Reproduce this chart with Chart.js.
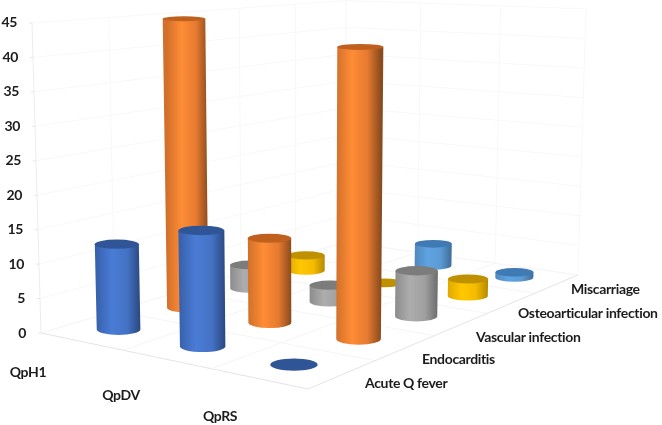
<!DOCTYPE html>
<html>
<head>
<meta charset="utf-8">
<style>
  html, body { margin: 0; padding: 0; background: #fff; }
  canvas { display: block; }
</style>
<script src="https://cdn.jsdelivr.net/npm/chart.js@4/dist/chart.umd.js"></script>
</head>
<body>
<canvas id="graphCanvas" width="662" height="425"></canvas>
<script>
var series = ['QpH1', 'QpDV', 'QpRS'];
var categories = ['Acute Q fever', 'Endocarditis', 'Vascular infection', 'Osteoarticular infection', 'Miscarriage'];
var yTicks = [0, 5, 10, 15, 20, 25, 30, 35, 40, 45];

// one list per category, in the order of series
var acuteQFever = [12.5, 16.3, 0];
var endocarditis = [44.7, 12.6, 41.8];
var vascularInfection = [3.8, 2.6, 6.9];
var osteoarticularInfection = [2.6, 0, 2.7];
var miscarriage = [0, 3.8, 0.9];

var categoryValues = [acuteQFever, endocarditis, vascularInfection, osteoarticularInfection, miscarriage];

// side shading left to right, and the colour of the cap
var sideShades = [
    ['#3862ad', '#4a7cd6', '#4472c4', '#2a477f'],
    ['#d2702b', '#ff8c36', '#e67a30', '#8a4b1e'],
    ['#8c8c8c', '#adadad', '#a0a0a0', '#6f6f6f'],
    ['#e0a800', '#ffc800', '#f5bb00', '#b58a00'],
    ['#4f88bd', '#5fa3e0', '#5b9bd5', '#3f6d98']
];
var capColors = ['#2f5597', '#c0601f', '#7c7c7c', '#bf9000', '#3f7ab5'];

// where the box of the 3d chart sits on the page
var floorCorners = [[41, 333], [308, 389], [578, 275], [345, 242]];
var unitPx = 6.89;
var vanishX = 305, vanishY = 9400;
var barRadius = 22;

var seriesLabelAt = [[28, 372], [121, 395], [220, 416]];
var categoryLabelAt = [[365, 383], [422, 359], [476, 337], [518, 313], [571, 289]];

var labelFont = 'bold 14px Lato';
var labelColor = '#1c1c1c';

function makeFloor(q)
{
    var dx1 = q[1][0] - q[2][0], dx2 = q[3][0] - q[2][0], sx = q[0][0] - q[1][0] + q[2][0] - q[3][0];
    var dy1 = q[1][1] - q[2][1], dy2 = q[3][1] - q[2][1], sy = q[0][1] - q[1][1] + q[2][1] - q[3][1];
    var det = dx1 * dy2 - dx2 * dy1;
    var g = (sx * dy2 - dx2 * sy) / det;
    var h = (dx1 * sy - sx * dy1) / det;
    return {
        a: q[1][0] - q[0][0] + g * q[1][0], b: q[3][0] - q[0][0] + h * q[3][0], c: q[0][0],
        d: q[1][1] - q[0][1] + g * q[1][1], e: q[3][1] - q[0][1] + h * q[3][1], f: q[0][1],
        g: g, h: h
    };
}
var floor = makeFloor(floorCorners);

// u runs along the series, v along the categories, val is the chart value
function project(u, v, val)
{
    var w = 1 + floor.g * u + floor.h * v;
    var x = (floor.a * u + floor.b * v + floor.c) / w;
    var y = (floor.d * u + floor.e * v + floor.f) / w;
    var lift = (val || 0) * unitPx / w;
    return {
        x: x + (x - vanishX) / (vanishY - y) * lift,
        y: y - lift,
        w: w
    };
}

function pixelToValue(py)
{
    return (floorCorners[0][1] - py) / unitPx;
}

function capHeight(rx, y)
{
    return rx * (0.113 + 0.0004 * y);
}

class CylinderBar extends Chart.BarElement {
    draw(ctx) {
        var baseY = this.base, topY = this.y, x = this.x;
        var rx = this.rx;
        var grow = (vanishY - topY) / (vanishY - baseY);
        var xTop = vanishX + (x - vanishX) * grow;
        var rxTop = rx * grow;
        var ryTop = capHeight(rxTop, topY);
        var ryBase = capHeight(rx, baseY);

        ctx.save();
        if (baseY - topY > 0.5) {
            var grad = ctx.createLinearGradient(x - rx, 0, x + rx, 0);
            grad.addColorStop(0, this.shade[0]);
            grad.addColorStop(0.35, this.shade[1]);
            grad.addColorStop(0.7, this.shade[2]);
            grad.addColorStop(1, this.shade[3]);
            ctx.fillStyle = grad;
            ctx.beginPath();
            ctx.moveTo(xTop - rxTop, topY);
            ctx.lineTo(x - rx, baseY);
            ctx.ellipse(x, baseY, rx, ryBase, 0, Math.PI, 0, true);
            ctx.lineTo(xTop + rxTop, topY);
            ctx.closePath();
            ctx.fill();
        }
        ctx.fillStyle = this.cap;
        ctx.beginPath();
        ctx.ellipse(xTop, topY, rxTop, ryTop, 0, 0, Math.PI * 2);
        ctx.fill();
        ctx.restore();
    }
}
CylinderBar.id = 'cylinderBar';
CylinderBar.defaults = Chart.BarElement.defaults;

class CylinderController extends Chart.BarController {
    updateElements(bars, start, count, mode) {
        super.updateElements(bars, start, count, mode);
        var ds = this.getDataset();
        for (var i = start; i < start + count; i++) {
            bars[i].rx = ds.data[i].r;
            bars[i].shade = ds.shade;
            bars[i].cap = ds.cap;
        }
    }
}
CylinderController.id = 'cylinder';
CylinderController.defaults = Object.assign({}, Chart.BarController.defaults, { dataElementType: 'cylinderBar' });
CylinderController.overrides = Chart.BarController.overrides;

Chart.register(CylinderBar, CylinderController);

function gridLine(ctx, p, q, color)
{
    ctx.strokeStyle = color;
    ctx.lineWidth = 1;
    ctx.beginPath();
    ctx.moveTo(p.x, p.y);
    ctx.lineTo(q.x, q.y);
    ctx.stroke();
}

var boxPlugin = {
    id: 'box',
    beforeDatasetsDraw: function (chart) {
        var ctx = chart.ctx;
        var top = yTicks[yTicks.length - 1];
        var i;
        ctx.save();
        // horizontal lines on both walls
        chart.scales.y.ticks.forEach(function (t) {
            gridLine(ctx, project(0, 0, t.value), project(0, 1, t.value), '#f8f8f8');
            gridLine(ctx, project(0, 1, t.value), project(1, 1, t.value), '#f8f8f8');
        });
        // uprights and floor lines
        for (i = 0; i <= categories.length; i++) {
            var v = i / categories.length;
            gridLine(ctx, project(0, v, 0), project(0, v, top), i === 0 ? '#ececec' : '#f8f8f8');
            gridLine(ctx, project(0, v, 0), project(1, v, 0), i === 0 ? '#e4e4e4' : '#f5f5f5');
        }
        for (i = 0; i <= series.length; i++) {
            var u = i / series.length;
            gridLine(ctx, project(u, 1, 0), project(u, 1, top), '#f8f8f8');
            gridLine(ctx, project(u, 0, 0), project(u, 1, 0), i === series.length ? '#e4e4e4' : '#f5f5f5');
        }
        ctx.restore();
    },
    afterDraw: function (chart) {
        var ctx = chart.ctx;
        var scale = chart.scales.y;
        ctx.save();
        ctx.font = labelFont;
        ctx.letterSpacing = '-0.35px';
        ctx.fillStyle = labelColor;
        ctx.textBaseline = 'middle';
        ctx.textAlign = 'right';
        scale.ticks.forEach(function (t) {
            var p = project(0, 0, t.value);
            gridLine(ctx, { x: p.x - 3, y: p.y }, p, '#e6e6e6');
            ctx.fillText(String(t.value), p.x - 15, scale.getPixelForValue(t.value));
        });
        ctx.textAlign = 'center';
        series.forEach(function (name, i) {
            ctx.fillText(name, seriesLabelAt[i][0], seriesLabelAt[i][1]);
        });
        ctx.textAlign = 'left';
        categories.forEach(function (name, i) {
            ctx.fillText(name, categoryLabelAt[i][0], categoryLabelAt[i][1]);
        });
        ctx.restore();
    }
};

var datasets = categories.map(function (name, c) {
    return {
        label: name,
        shade: sideShades[c],
        cap: capColors[c],
        backgroundColor: sideShades[c][2],
        barThickness: barRadius * 2,
        grouped: false,
        data: categoryValues[c].map(function (val, s) {
            var u = (s + 0.5) / series.length;
            var v = (c + 0.5) / categories.length;
            var foot = project(u, v, 0);
            var head = project(u, v, val);
            return {
                x: foot.x,
                y: [pixelToValue(foot.y), pixelToValue(head.y)],
                r: barRadius / foot.w
            };
        })
    };
});

var graphTarget = document.getElementById('graphCanvas');

var barGraph = new Chart(graphTarget, {
    type: 'cylinder',
    data: { datasets: datasets },
    plugins: [boxPlugin],
    options: {
        responsive: false,
        animation: false,
        layout: { padding: 0 },
        plugins: { legend: { display: false }, tooltip: { enabled: false } },
        scales: {
            x: { type: 'linear', display: false, min: 0, max: 662, offset: false },
            y: {
                type: 'linear',
                display: false,
                min: pixelToValue(425),
                max: pixelToValue(0),
                afterBuildTicks: function (scale) {
                    scale.ticks = yTicks.map(function (t) { return { value: t }; });
                }
            }
        }
    }
});
</script>
</body>
</html>
